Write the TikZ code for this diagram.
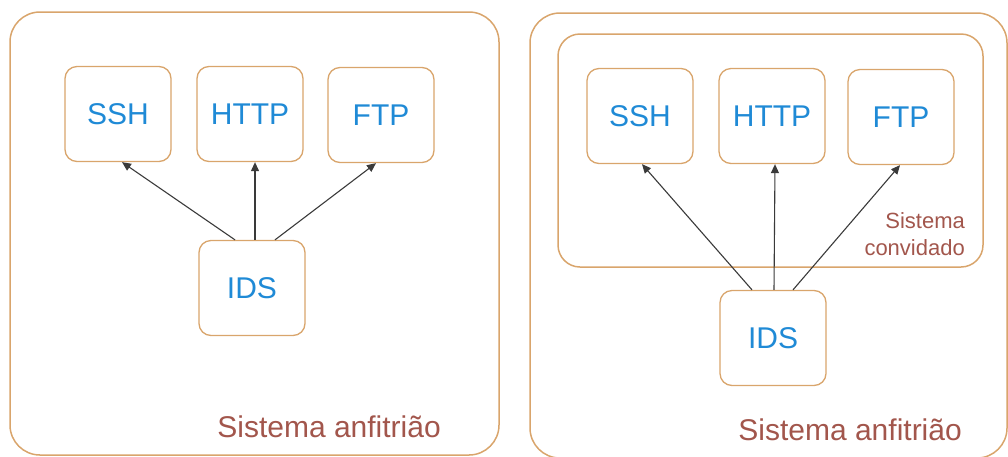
\documentclass[tikz,border=0pt]{standalone}
\usepackage{fontspec}
\setmainfont{Liberation Sans}
\usepackage{tikz}
\usetikzlibrary{arrows.meta,positioning,calc}
\definecolor{vtan}{HTML}{D9A56C}
\definecolor{vblue}{HTML}{1F8AD6}
\definecolor{vbrown}{HTML}{A2564C}
\definecolor{vgray}{HTML}{3A3A3A}
\tikzset{
  svc/.style={draw=vtan,fill=white,rounded corners=12pt,line width=1.3pt,minimum width=106pt,minimum height=95pt,text=vblue,font=\fontsize{30}{32}\selectfont,inner sep=0pt},
  frame/.style={draw=vtan,line width=1.5pt,rounded corners=30pt},
  gframe/.style={draw=vtan,line width=1.5pt,rounded corners=22pt},
  arr/.style={-{Triangle[length=9pt,width=8pt]},line width=1.1pt,draw=vgray},
  sys/.style={text=vbrown,font=\fontsize{30}{32}\selectfont,inner sep=0pt},
  gsys/.style={text=vbrown,font=\fontsize{22}{27}\selectfont,align=right,inner sep=0pt},
}
\begin{document}
\begin{tikzpicture}[x=1pt,y=-1pt]
  \useasboundingbox (0,0) rectangle (1008,456);
  % host on its own
  \draw[frame] (10,12) rectangle (499,455);
  \node[svc] (sshL) at (118,114) {SSH};
  \node[svc] (httpL) at (250,114) {HTTP};
  \node[svc] (ftpL) at (381,115) {FTP};
  \node[svc] (idsL) at (252,288) {IDS};
  \draw[arr] ([xshift=-17pt]idsL.north) -- ([xshift=4pt]sshL.south);
  \draw[arr] ([xshift=3pt]idsL.north) -- ([xshift=5pt]httpL.south);
  \draw[arr] ([xshift=23pt]idsL.north) -- ([xshift=-5pt]ftpL.south);
  \node[sys,anchor=base east] (hostL) at (441,437) {Sistema anfitrião};
  % host with a guest system
  \draw[frame] (530,13) rectangle (1007,458);
  \draw[gframe] (558,34) rectangle (983,267);
  \node[svc] (sshR) at (640,116) {SSH};
  \node[svc] (httpR) at (772,116) {HTTP};
  \node[svc] (ftpR) at (901,117) {FTP};
  \node[svc] (idsR) at (773,338) {IDS};
  \draw[arr] ([xshift=-21pt]idsR.north) -- ([xshift=2pt]sshR.south);
  \draw[arr] ([xshift=1pt]idsR.north) -- ([xshift=3pt]httpR.south);
  \draw[arr] ([xshift=20pt]idsR.north) -- ([xshift=-1pt]ftpR.south);
  \node[gsys,anchor=base east] (guest) at (965,255) {Sistema\\convidado};
  \node[sys,anchor=base east] (hostR) at (962,440) {Sistema anfitrião};
\end{tikzpicture}
\end{document}
